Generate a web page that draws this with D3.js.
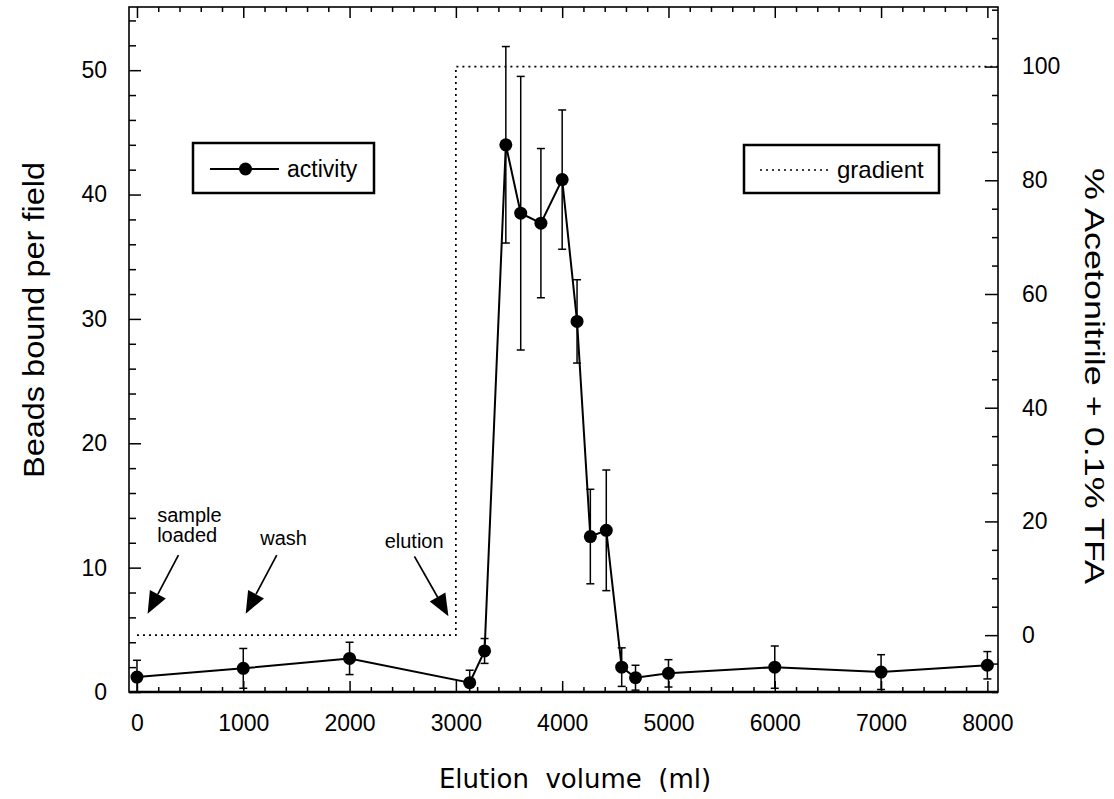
<!DOCTYPE html>
<html>
<head>
<meta charset="utf-8">
<script src="https://cdn.jsdelivr.net/npm/d3@7"></script>
<style>
  body { margin: 0; background: #fff; }
  text { font-family: "Liberation Sans", Arial, sans-serif; fill: #000; }
</style>
</head>
<body>
<div id="chart"></div>
<script>
// elution profile: activity (beads bound) vs elution volume, with acetonitrile gradient

// activity data
const volumes = [0, 1000, 2000, 3130, 3270, 3470, 3610, 3800, 4000, 4140, 4265, 4415, 4560, 4690, 5000, 6000, 7000, 8000];
const beads   = [1.2, 1.9, 2.7, 0.75, 3.3, 44.0, 38.5, 37.7, 41.2, 29.8, 12.5, 13.0, 2.0, 1.15, 1.5, 2.0, 1.6, 2.15];
const beadErr = [1.35, 1.6, 1.3, 1.0, 1.0, 7.9, 11.0, 6.0, 5.6, 3.35, 3.8, 4.85, 1.55, 1.0, 1.1, 1.7, 1.4, 1.1];

// gradient (% acetonitrile)
const gradVolumes = [0, 3000, 3000, 8100];
const gradPercent = [0, 0, 100, 100];

// tick values
const xMajor = [0, 1000, 2000, 3000, 4000, 5000, 6000, 7000, 8000];
const yLeftMajor = [0, 10, 20, 30, 40, 50];
const yRightMajor = [0, 20, 40, 60, 80, 100];

// annotations: label lines, text anchor (volume, beads), arrow tail and tip
const notes = [
  {lines: ["sample", "loaded"], tx: 190, ty: 13.7, tail: [390, 11.0], tip: [100, 6.3]},
  {lines: ["wash"], tx: 1160, ty: 11.8, tail: [1315, 11.0], tip: [1023, 6.3]},
  {lines: ["elution"], tx: 2330, ty: 11.6, tail: [2610, 10.9], tip: [2930, 6.1]}
];

const width = 1114, height = 799;
const pLeft = 129, pRight = 998, pTop = 7, pBottom = 692;

const svg = d3.select("#chart").append("svg")
    .attr("width", width)
    .attr("height", height);

const x = d3.scaleLinear().domain([-75, 8100]).range([pLeft, pRight]);
const y = d3.scaleLinear().domain([0, 55]).range([pBottom, pTop + 1]);
const y2 = d3.scaleLinear().domain([-10, 110.3]).range([pBottom, pTop + 1]);

svg.append("clipPath").attr("id", "plotclip")
    .append("rect")
    .attr("x", pLeft).attr("y", pTop)
    .attr("width", pRight - pLeft).attr("height", pBottom - pTop);

// ---- axes ----
function styleAxis(g) {
    g.select(".domain").remove();
    g.selectAll(".tick line").attr("stroke", "#000").attr("stroke-width", 1.5);
    g.selectAll(".tick text")
        .style("font-family", "'Liberation Sans', Arial, sans-serif")
        .style("font-size", "23px");
}

const xMinor = d3.range(0, 8001, 200).filter(v => v % 1000 !== 0);

svg.append("g")
    .attr("transform", `translate(0,${pBottom})`)
    .call(d3.axisBottom(x).tickValues(xMajor).tickFormat(d3.format("d")).tickSize(-11).tickPadding(22.5))
    .call(styleAxis);
svg.append("g")
    .attr("transform", `translate(0,${pBottom})`)
    .call(d3.axisBottom(x).tickValues(xMinor).tickFormat("").tickSize(-5))
    .call(styleAxis);
svg.append("g")
    .attr("transform", `translate(0,${pTop})`)
    .call(d3.axisTop(x).tickValues(xMajor).tickFormat("").tickSize(-11))
    .call(styleAxis);
svg.append("g")
    .attr("transform", `translate(0,${pTop})`)
    .call(d3.axisTop(x).tickValues(xMinor).tickFormat("").tickSize(-5))
    .call(styleAxis);

const yMinor = d3.range(0, 55, 2).filter(v => v % 10 !== 0);
svg.append("g")
    .attr("transform", `translate(${pLeft},0)`)
    .call(d3.axisLeft(y).tickValues(yLeftMajor).tickFormat(d3.format("d")).tickSize(-12).tickPadding(22))
    .call(styleAxis);
svg.append("g")
    .attr("transform", `translate(${pLeft},0)`)
    .call(d3.axisLeft(y).tickValues(yMinor).tickFormat("").tickSize(-7))
    .call(styleAxis);

const y2Minor = d3.range(-10, 111, 5).filter(v => v % 20 !== 0);
svg.append("g")
    .attr("transform", `translate(${pRight},0)`)
    .call(d3.axisRight(y2).tickValues(yRightMajor).tickFormat(d3.format("d")).tickSize(-13).tickPadding(24))
    .call(styleAxis);
svg.append("g")
    .attr("transform", `translate(${pRight},0)`)
    .call(d3.axisRight(y2).tickValues(y2Minor).tickFormat("").tickSize(-6))
    .call(styleAxis);

// frame
svg.append("rect")
    .attr("x", pLeft).attr("y", pTop)
    .attr("width", pRight - pLeft).attr("height", pBottom - pTop)
    .attr("fill", "none")
    .attr("stroke", "#000")
    .attr("stroke-width", 1.6);
svg.append("line")
    .attr("x1", pLeft).attr("x2", pRight)
    .attr("y1", pBottom).attr("y2", pBottom)
    .attr("stroke", "#000")
    .attr("stroke-width", 2.5);

// ---- gradient ----
const plot = svg.append("g").attr("clip-path", "url(#plotclip)");

const gradLine = d3.line()
    .x((d, i) => x(gradVolumes[i]))
    .y((d, i) => y2(gradPercent[i]));
plot.append("path")
    .attr("d", gradLine(gradVolumes))
    .attr("fill", "none")
    .attr("stroke", "#000")
    .attr("stroke-width", 1.7)
    .attr("stroke-dasharray", "2,4");

// ---- activity ----
const actLine = d3.line()
    .x((d, i) => x(volumes[i]))
    .y((d, i) => y(beads[i]));
plot.append("path")
    .attr("d", actLine(volumes))
    .attr("fill", "none")
    .attr("stroke", "#000")
    .attr("stroke-width", 2);

const bars = plot.selectAll(".err")
    .data(volumes)
    .join("g")
    .attr("class", "err")
    .attr("stroke", "#000")
    .attr("stroke-width", 1.5);
bars.append("line")
    .attr("x1", (d) => x(d)).attr("x2", (d) => x(d))
    .attr("y1", (d, i) => y(beads[i] - beadErr[i]))
    .attr("y2", (d, i) => y(beads[i] + beadErr[i]));
bars.append("line")
    .attr("x1", (d) => x(d) - 4).attr("x2", (d) => x(d) + 4)
    .attr("y1", (d, i) => y(beads[i] + beadErr[i]))
    .attr("y2", (d, i) => y(beads[i] + beadErr[i]));
bars.append("line")
    .attr("x1", (d) => x(d) - 4).attr("x2", (d) => x(d) + 4)
    .attr("y1", (d, i) => y(beads[i] - beadErr[i]))
    .attr("y2", (d, i) => y(beads[i] - beadErr[i]));

plot.selectAll(".dot")
    .data(volumes)
    .join("circle")
    .attr("class", "dot")
    .attr("cx", (d) => x(d))
    .attr("cy", (d, i) => y(beads[i]))
    .attr("r", 6.5)
    .attr("fill", "#000");

// ---- annotations ----
notes.forEach(n => {
    const t = svg.append("text")
        .attr("x", x(n.tx))
        .attr("y", y(n.ty))
        .style("font-size", "20px");
    n.lines.forEach((s, k) => {
        t.append("tspan")
            .attr("x", x(n.tx))
            .attr("dy", k === 0 ? 0 : 20.5)
            .text(s);
    });

    const x1 = x(n.tail[0]), y1 = y(n.tail[1]);
    const x2 = x(n.tip[0]), y2p = y(n.tip[1]);
    const ang = Math.atan2(y2p - y1, x2 - x1);
    const headLen = 22, headHalf = 9;
    const bx = x2 - headLen * Math.cos(ang), by = y2p - headLen * Math.sin(ang);
    svg.append("line")
        .attr("x1", x1).attr("y1", y1)
        .attr("x2", bx).attr("y2", by)
        .attr("stroke", "#000")
        .attr("stroke-width", 1.7);
    const px = -Math.sin(ang), py = Math.cos(ang);
    svg.append("path")
        .attr("d", `M${x2},${y2p}L${bx + px * headHalf},${by + py * headHalf}L${bx - px * headHalf},${by - py * headHalf}Z`)
        .attr("fill", "#000");
});

// ---- legends ----
const leg1 = svg.append("g");
leg1.append("rect")
    .attr("x", 193).attr("y", 143).attr("width", 181).attr("height", 50)
    .attr("fill", "#fff").attr("stroke", "#000").attr("stroke-width", 2.5);
leg1.append("line")
    .attr("x1", 210).attr("x2", 279).attr("y1", 169).attr("y2", 169)
    .attr("stroke", "#000").attr("stroke-width", 1.8);
leg1.append("circle")
    .attr("cx", 245.5).attr("cy", 169).attr("r", 6.5).attr("fill", "#000");
leg1.append("text")
    .attr("x", 287).attr("y", 177)
    .style("font-size", "23px")
    .text("activity");

const leg2 = svg.append("g");
leg2.append("rect")
    .attr("x", 744).attr("y", 145).attr("width", 195).attr("height", 48)
    .attr("fill", "#fff").attr("stroke", "#000").attr("stroke-width", 2.5);
leg2.append("line")
    .attr("x1", 760).attr("x2", 830).attr("y1", 170).attr("y2", 170)
    .attr("stroke", "#000").attr("stroke-width", 1.6)
    .attr("stroke-dasharray", "2,4");
leg2.append("text")
    .attr("x", 837).attr("y", 178)
    .style("font-size", "24px")
    .text("gradient");

// ---- axis titles ----
svg.append("text")
    .attr("transform", "translate(44,320) rotate(-90)")
    .attr("text-anchor", "middle")
    .attr("textLength", 316)
    .attr("lengthAdjust", "spacingAndGlyphs")
    .style("font-size", "29px")
    .text("Beads bound per field");

svg.append("text")
    .attr("transform", "translate(1085,376) rotate(90)")
    .attr("text-anchor", "middle")
    .attr("textLength", 416)
    .attr("lengthAdjust", "spacingAndGlyphs")
    .style("font-size", "28px")
    .text("% Acetonitrile + 0.1% TFA");

svg.append("text")
    .attr("x", 575).attr("y", 788)
    .attr("text-anchor", "middle")
    .attr("xml:space", "preserve")
    .style("white-space", "pre")
    .style("font-family", "'DejaVu Sans', sans-serif")
    .style("font-size", "26px")
    .text("Elution  volume  (ml)");
</script>
</body>
</html>
